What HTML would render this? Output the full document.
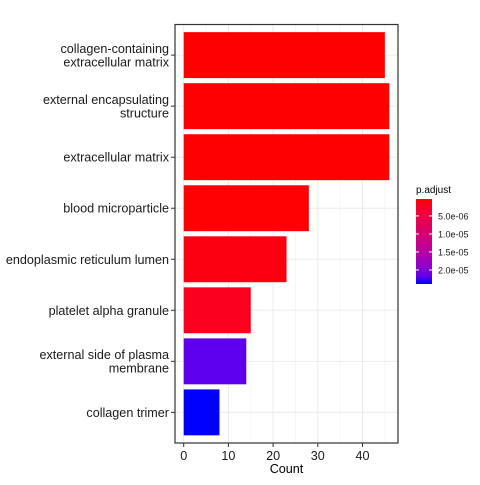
<!DOCTYPE html>
<html><head><meta charset="utf-8"><style>
body{margin:0;background:#fff;}
svg text{font-family:"Liberation Sans",Arial,sans-serif;}
</style></head><body>
<svg id="chart" width="480" height="480" viewBox="0 0 480 480" xmlns="http://www.w3.org/2000/svg"></svg>
<script>
const categories=["collagen-containing\nextracellular matrix","external encapsulating\nstructure","extracellular matrix","blood microparticle","endoplasmic reticulum lumen","platelet alpha granule","external side of plasma\nmembrane","collagen trimer"];
const counts=[45,46,46,28,23,15,14,8];
const pvalues=[3e-7,3e-7,3e-7,4e-7,1.0e-6,1.6e-6,2.2e-5,2.39e-5];
const xTicks=[0,10,20,30,40];
const legendTicks=[5e-6,1e-5,1.5e-5,2e-5];
const legendTickLabels=["5.0e-06","1.0e-05","1.5e-05","2.0e-05"];

const NS="http://www.w3.org/2000/svg";
const svg=document.getElementById('chart');
function mk(t,a,p){const e=document.createElementNS(NS,t);for(const k in a)e.setAttribute(k,a[k]);(p||svg).appendChild(e);return e;}
const L=175,R=398,T=24.5,B=443;
const x0=183.7,pxU=4.47;
const xs=v=>x0+v*pxU;
const step=(B-T)/(categories.length-1+1.2);
const ys=i=>T+step*(0.6+i);
const pmin=3e-7,pmax=2.39e-5;

function srgb2lin(c){c/=255;return c<=0.04045?c/12.92:Math.pow((c+0.055)/1.055,2.4);}
function lin2srgb(c){c=c<=0.0031308?12.92*c:1.055*Math.pow(c,1/2.4)-0.055;return Math.round(Math.max(0,Math.min(1,c))*255);}
const Wn=[0.95047,1,1.08883];
function f(t){return t>0.008856?Math.cbrt(t):7.787*t+16/116;}
function fi(t){return t>0.206897?t*t*t:(t-16/116)/7.787;}
function toLab(r,g,b){r=srgb2lin(r);g=srgb2lin(g);b=srgb2lin(b);
 const X=(0.4124*r+0.3576*g+0.1805*b)/Wn[0],Y=(0.2126*r+0.7152*g+0.0722*b)/Wn[1],Z=(0.0193*r+0.1192*g+0.9505*b)/Wn[2];
 return [116*f(Y)-16,500*(f(X)-f(Y)),200*(f(Y)-f(Z))];}
function fromLab(L,a,b){const fy=(L+16)/116,fx=fy+a/500,fz=fy-b/200;
 const X=fi(fx)*Wn[0],Y=fi(fy)*Wn[1],Z=fi(fz)*Wn[2];
 const r=3.2406*X-1.5372*Y-0.4986*Z,g=-0.9689*X+1.8758*Y+0.0415*Z,bb=0.0557*X-0.2040*Y+1.0570*Z;
 return `rgb(${lin2srgb(r)},${lin2srgb(g)},${lin2srgb(bb)})`;}
const labR=toLab(255,0,0),labB=toLab(0,0,255);
function colT(t){return fromLab(labR[0]+(labB[0]-labR[0])*t,labR[1]+(labB[1]-labR[1])*t,labR[2]+(labB[2]-labR[2])*t);}
function col(p){const t=Math.max(0,Math.min(1,(p-pmin)/(pmax-pmin)));return colT(t);}

for(let v=5;v<48;v+=10){const g=mk('line',{x1:xs(v),x2:xs(v),y1:T,y2:B,stroke:'#f2f2f2','stroke-width':0.6});

}
xTicks.forEach(v=>{const g=mk('line',{x1:xs(v),x2:xs(v),y1:T,y2:B,stroke:'#ebebeb','stroke-width':1});

});
categories.forEach((c,i)=>{const g=mk('line',{x1:L,x2:R,y1:ys(i),y2:ys(i),stroke:'#ebebeb','stroke-width':1});

});

const bh=step*0.9;
categories.forEach((c,i)=>{
 const r=mk('rect',{x:xs(0),y:ys(i)-bh/2,width:xs(counts[i])-xs(0),height:bh,fill:col(pvalues[i])});
 
 
 const tk=mk('line',{x1:L-4,x2:L,y1:ys(i),y2:ys(i),stroke:'#333','stroke-width':1});
 
 
 const lines=c.split('\n');
 const t=mk('text',{x:L-6,'text-anchor':'end','font-size':12.6,fill:'#1a1a1a'});
 
 
 lines.forEach((ln,j)=>{const s=mk('tspan',{x:L-6,y:ys(i)+4.5+(j-(lines.length-1)/2)*13.5},t);s.textContent=ln;});
});

const pb=mk('rect',{x:L,y:T,width:R-L,height:B-T,fill:'none',stroke:'#333','stroke-width':1.2});



xTicks.forEach(v=>{
 const tk=mk('line',{x1:xs(v),x2:xs(v),y1:B,y2:B+4,stroke:'#333','stroke-width':1});
 
 
 const t=mk('text',{x:xs(v),y:B+17,'text-anchor':'middle','font-size':12.6,fill:'#1a1a1a'});
 t.textContent=v;
 
 
});
const xt=mk('text',{x:(L+R)/2,y:473,'text-anchor':'middle','font-size':12.6,fill:'#000'});
xt.textContent='Count';



const defs=mk('defs',{});
const lg=mk('linearGradient',{id:'lg',x1:0,y1:0,x2:0,y2:1},defs);
for(let k=0;k<=10;k++)mk('stop',{offset:k/10,'stop-color':colT(k/10)},lg);
const lt=mk('text',{x:416,y:193,'font-size':10,fill:'#000'});
lt.textContent='p.adjust';


const LT=199,LB=284;
const lr=mk('rect',{x:416,y:LT,width:16,height:LB-LT,fill:'url(#lg)'});


const ly=p=>LT+(p-pmin)/(pmax-pmin)*(LB-LT);
legendTicks.forEach((p,i)=>{
 mk('line',{x1:416,x2:419,y1:ly(p),y2:ly(p),stroke:'#fff','stroke-width':1});
 mk('line',{x1:429,x2:432,y1:ly(p),y2:ly(p),stroke:'#fff','stroke-width':1});
 const t=mk('text',{x:438,y:ly(p)+3.5,'font-size':9,fill:'#1a1a1a'});
 t.textContent=legendTickLabels[i];
 
 
});
</script>
</body></html>
